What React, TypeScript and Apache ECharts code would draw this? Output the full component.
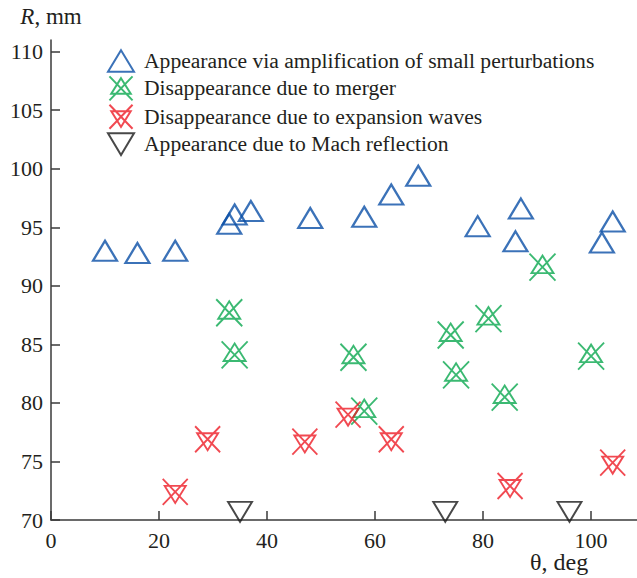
import React, { useEffect, useRef } from "react";
import * as echarts from "echarts";

const legendNames = [
  "Appearance via amplification of small perturbations",
  "Disappearance due to merger",
  "Disappearance due to expansion waves",
  "Appearance due to Mach reflection",
];

const amplification: number[][] = [
  [10, 93.0], [16, 92.8], [23, 93.0], [33, 95.3], [34, 96.1], [37, 96.4],
  [48, 95.8], [58, 95.9], [63, 97.8], [68, 99.4], [79, 95.1], [86, 93.8],
  [87, 96.6], [102, 93.7], [104, 95.5],
];
const merger: number[][] = [
  [33, 87.7], [34, 84.1], [56, 83.9], [58, 79.3], [74, 85.8], [75, 82.4],
  [81, 87.2], [84, 80.5], [91, 91.6], [100, 84.0],
];
const expansion: number[][] = [
  [23, 72.4], [29, 76.9], [47, 76.7], [55, 79.0], [63, 76.9], [85, 72.9],
  [104, 74.9],
];
const mach: number[][] = [
  [35, 70.7], [73, 70.7], [96, 70.7],
];

const yTicks = [70, 75, 80, 85, 90, 95, 100, 105, 110];
const xTicks = [0, 20, 40, 60, 80, 100];

const FONT = "Liberation Serif";
const TEXT = "#231f20";
const AXIS = "#3a3a3a";

const BLUE = "#0a4fa6";
const GREEN = "#0aa84f";
const RED = "#ee1c25";
const BLACK = "#1a1a1a";

const SYM_UP = "path://M12 0L24 20L0 20Z";
const SYM_DOWN = "path://M0 0L24 0L12 20Z";
const SYM_UP_X = "path://M13 2L24 19.5L2 19.5ZM0 0L26 27M26 0L0 27";
const SYM_DOWN_X = "path://M2 7L23 7L12.5 24ZM0 0L25 26M25 0L0 26";

export default function App() {
  const ref = useRef<HTMLDivElement>(null);
  useEffect(() => {
    if (!ref.current) return;
    const chart = echarts.init(ref.current, undefined, { renderer: "svg" });
    const mk = (name: string, data: number[][], symbol: string, size: number[], color: string, bw: number) => ({
      name,
      type: "scatter",
      data,
      symbol,
      symbolSize: size,
      itemStyle: { color: "transparent", borderColor: color, borderWidth: bw },
      emphasis: { disabled: true },
      z: 5,
    });
    chart.setOption({
      animation: false,
      backgroundColor: "#ffffff",
      textStyle: { fontFamily: FONT, color: TEXT },
      grid: { left: 51, right: 0, top: 40, bottom: 58, containLabel: false },
      legend: {
        orient: "vertical",
        left: 107,
        top: 49,
        padding: 0,
        itemWidth: 26,
        itemHeight: 24,
        itemGap: 2.4,
        data: legendNames,
        textStyle: { fontFamily: FONT, fontSize: 21.6, lineHeight: 24, color: TEXT, padding: [0, 0, 0, 5] },
        selectedMode: false,
      },
      xAxis: {
        type: "value",
        min: 0,
        max: 108.5,
        interval: 20,
        axisLine: { show: true, lineStyle: { color: AXIS, width: 1.5 } },
        axisTick: { show: true, inside: true, length: 9, lineStyle: { color: AXIS, width: 1.5 }, customValues: xTicks },
        axisLabel: { fontFamily: FONT, fontSize: 22, color: TEXT, margin: 9, customValues: xTicks },
        splitLine: { show: false },
      },
      yAxis: {
        type: "value",
        min: 70,
        max: 111,
        interval: 5,
        name: "{i|R}, mm",
        nameLocation: "end",
        nameGap: 12,
        nameTextStyle: {
          fontFamily: FONT,
          fontSize: 23,
          color: TEXT,
          rich: { i: { fontFamily: FONT, fontSize: 23, fontStyle: "italic", color: TEXT } },
        },
        axisLine: { show: true, lineStyle: { color: AXIS, width: 1.5 } },
        axisTick: { show: true, inside: true, length: 9, lineStyle: { color: AXIS, width: 1.5 }, customValues: yTicks },
        axisLabel: { fontFamily: FONT, fontSize: 22, color: TEXT, margin: 8, customValues: yTicks },
        splitLine: { show: false },
      },
      graphic: [
        {
          type: "text",
          left: 530,
          top: 550,
          style: { text: "θ, deg", fontFamily: FONT, fontSize: 24, fill: TEXT },
        },
      ],
      series: [
        mk(legendNames[0], amplification, SYM_UP, [24, 20], BLUE, 2.2),
        mk(legendNames[1], merger, SYM_UP_X, [26, 27], GREEN, 1.9),
        mk(legendNames[2], expansion, SYM_DOWN_X, [25, 26], RED, 1.9),
        mk(legendNames[3], mach, SYM_DOWN, [24, 20], BLACK, 1.9),
      ],
    });
    return () => chart.dispose();
  }, []);
  return <div ref={ref} style={{ position: "fixed", left: 0, top: 0, width: 637, height: 578 }} />;
}
